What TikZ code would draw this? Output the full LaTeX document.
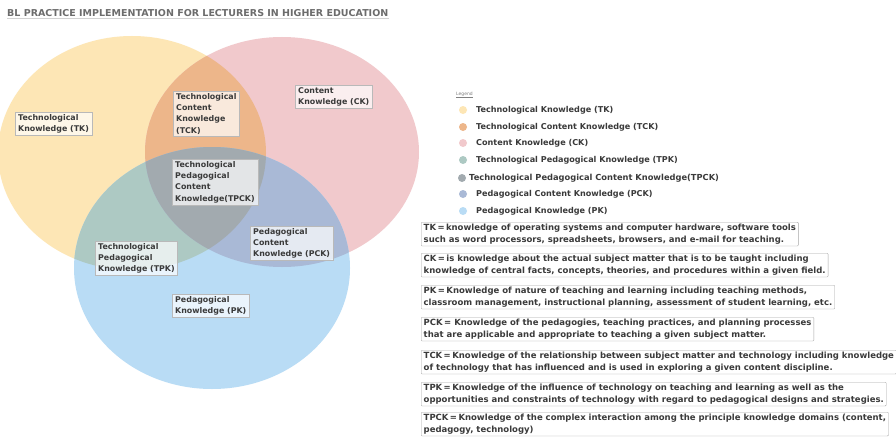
\documentclass[tikz,border=0pt]{standalone}
\usepackage{fontspec}
\setmainfont{DejaVu Sans}
\usetikzlibrary{positioning}
\usepackage{xcolor}

\definecolor{tkcol}{HTML}{FDE6B5}
\definecolor{ckcol}{HTML}{F1C9CC}
\definecolor{pkcol}{HTML}{B9DCF5}
\definecolor{tckcol}{HTML}{EDB68A}
\definecolor{tpkcol}{HTML}{ADC9C3}
\definecolor{pckcol}{HTML}{A9B9D6}
\definecolor{tpckcol}{HTML}{A2AAAF}
\definecolor{txtgray}{HTML}{3A3A3A}

\tikzset{
  lbl/.style={draw=gray!55, fill=white, fill opacity=0.7, text opacity=1, anchor=north west,
    inner xsep=3pt, inner ysep=2pt, align=left, text=txtgray,
    font=\fontsize{7.9}{11.3}\selectfont\bfseries},
  legdot/.style={circle, inner sep=0pt, minimum size=8pt},
  legtxt/.style={anchor=west, inner sep=0pt, text=txtgray, font=\fontsize{8.1}{9}\selectfont\bfseries},
  defbox/.style={draw=gray!70, rounded corners=1pt, anchor=north west, inner xsep=2.5pt,
    inner ysep=2pt, align=left, text=txtgray, font=\fontsize{8.5}{11.5}\selectfont\bfseries}
}

\begin{document}
\begin{tikzpicture}[x=1pt, y=-1pt]
    \useasboundingbox (0,0) rectangle (896,436);
    \fill[white] (0,0) rectangle (896,436);

    % Title
    \node[anchor=west, inner sep=0pt, text=gray!85!black, font=\fontsize{9.5}{10}\selectfont\bfseries] (title) at (7,13) {BL PRACTICE IMPLEMENTATION FOR LECTURERS IN HIGHER EDUCATION};
    \draw[gray!35, line width=1pt] ([yshift=-1.5pt]title.south west) -- ([yshift=-1.5pt]title.south east);

    % Venn circles
    \fill[tkcol] (132,153) ellipse [x radius=134, y radius=117];
    \fill[ckcol] (282,152) ellipse [x radius=137, y radius=115];
    \fill[pkcol] (212,268) ellipse [x radius=138, y radius=121];
    \begin{scope}
        \clip (132,153) ellipse [x radius=134, y radius=117];
        \fill[tckcol] (282,152) ellipse [x radius=137, y radius=115];
        \fill[tpkcol] (212,268) ellipse [x radius=138, y radius=121];
    \end{scope}
    \begin{scope}
        \clip (282,152) ellipse [x radius=137, y radius=115];
        \fill[pckcol] (212,268) ellipse [x radius=138, y radius=121];
        \clip (132,153) ellipse [x radius=134, y radius=117];
        \fill[tpckcol] (212,268) ellipse [x radius=138, y radius=121];
    \end{scope}

    % Region labels
    \node[lbl] (tk_lbl) at (15,112) {Technological\\Knowledge (TK)};
    \node[lbl] (tck_lbl) at (173,91) {Technological\\Content\\Knowledge\\(TCK)};
    \node[lbl] (ck_lbl) at (295,85) {Content\\Knowledge (CK)};
    \node[lbl] (tpck_lbl) at (172,159) {Technological\\Pedagogical\\Content\\Knowledge(TPCK)};
    \node[lbl] (tpk_lbl) at (95,241) {Technological\\Pedagogical\\Knowledge (TPK)};
    \node[lbl] (pck_lbl) at (250,226) {Pedagogical\\Content\\Knowledge (PCK)};
    \node[lbl] (pk_lbl) at (172,294) {Pedagogical\\Knowledge (PK)};

    % Legend
    \node[anchor=west, inner sep=0pt, text=gray, font=\fontsize{4.5}{5}\selectfont] (leg_title) at (456,95) {\underline{Legend}};
    \foreach \i/\y/\col/\txt in {1/110/tkcol/Technological Knowledge (TK),
                                 2/127/tckcol/Technological Content Knowledge (TCK),
                                 3/143/ckcol/Content Knowledge (CK),
                                 4/160/tpkcol/Technological Pedagogical Knowledge (TPK),
                                 6/194/pckcol/Pedagogical Content Knowledge (PCK),
                                 7/211/pkcol/Pedagogical Knowledge (PK)} {
        \node[legdot, fill=\col] (dot\i) at (463,\y) {};
        \node[legtxt] (leg\i) at (476,\y) {\txt};
    }
    \node[legdot, fill=tpckcol] (dot5) at (462,178) {};
    \node[legtxt, font=\fontsize{8.3}{9}\selectfont\bfseries] (leg5) at (469,178) {Technological Pedagogical Content Knowledge(TPCK)};

    % Definitions
    \node[defbox] (tk_def) at (421,222) {TK\,=\,knowledge of operating systems and computer hardware, software tools\\such as word processors, spreadsheets, browsers, and e-mail for teaching.};
    \node[defbox] (ck_def) at (421,253) {CK\,=\,is knowledge about the actual subject matter that is to be taught including\\knowledge of central facts, concepts, theories, and procedures within a given field.};
    \node[defbox] (pk_def) at (421,285) {PK\,=\,Knowledge of nature of teaching and learning including teaching methods,\\classroom management, instructional planning, assessment of student learning, etc.};
    \node[defbox] (pck_def) at (421,317) {PCK\,= Knowledge of the pedagogies, teaching practices, and planning processes\\that are applicable and appropriate to teaching a given subject matter.};
    \node[defbox] (tck_def) at (421,350) {TCK\,=\,Knowledge of the relationship between subject matter and technology including knowledge\\of technology that has influenced and is used in exploring a given content discipline.};
    \node[defbox] (tpk_def) at (421,382) {TPK\,=\,Knowledge of the influence of technology on teaching and learning as well as the\\opportunities and constraints of technology with regard to pedagogical designs and strategies.};
    \node[defbox] (tpck_def) at (421,412) {TPCK\,=\,Knowledge of the complex interaction among the principle knowledge domains (content,\\pedagogy, technology)};
\end{tikzpicture}
\end{document}
